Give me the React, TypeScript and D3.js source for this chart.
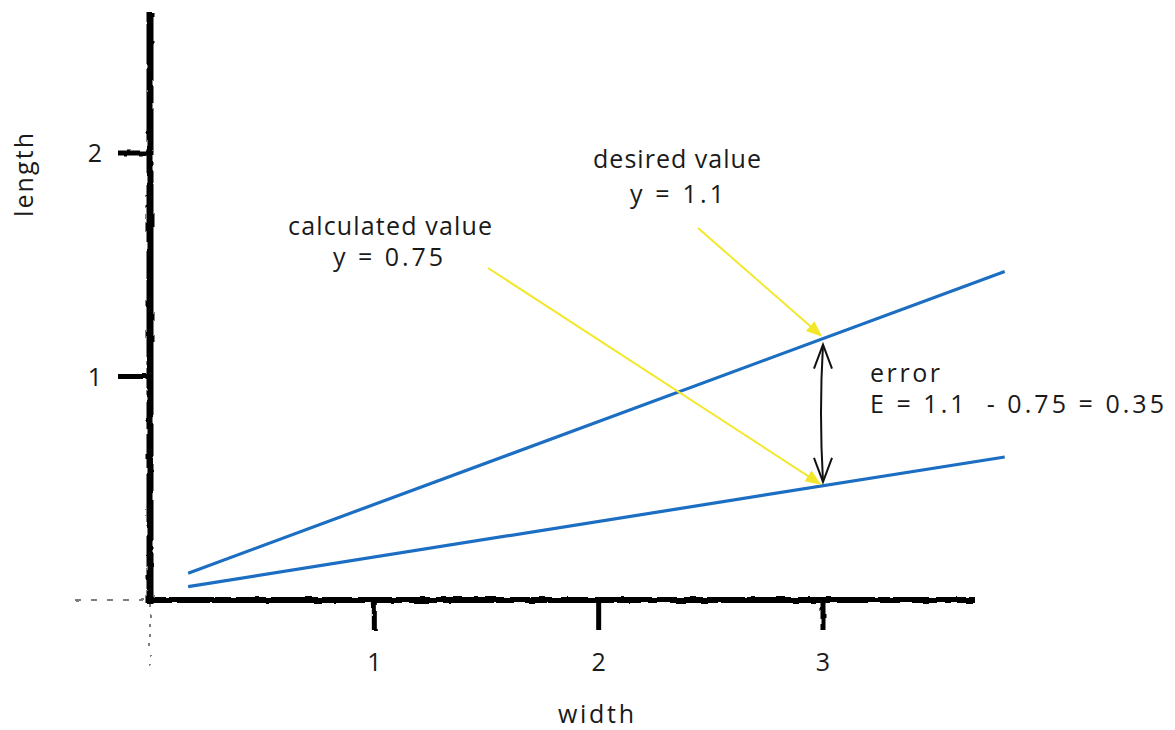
import React from "react";
import * as d3 from "d3";

const xTicks = [1, 2, 3];
const yTicks = [1, 2];
const lineX = [0.17, 3.81];
const desiredLine = [0.12, 1.47];
const calculatedLine = [0.06, 0.64];
const markX = 3;
const desiredLabel = ["desired value", "y = 1.1"];
const calculatedLabel = ["calculated value", "y = 0.75"];
const errorLabel = ["error", "E = 1.1  - 0.75 = 0.35"];

const W = 1175;
const H = 730;
const FONT = "'Open Sans', 'DejaVu Sans', sans-serif";

export default function App() {
  const x = d3.scaleLinear().domain([0, 3]).range([150, 823]);
  const y = d3.scaleLinear().domain([0, 2]).range([600, 153]);

  const line = d3
    .line<[number, number]>()
    .x((d) => x(d[0]))
    .y((d) => y(d[1]));

  const up = lineX.map((v, i) => [v, desiredLine[i]] as [number, number]);
  const lo = lineX.map((v, i) => [v, calculatedLine[i]] as [number, number]);
  const interp = (arr: number[], t: number) =>
    arr[0] + ((arr[1] - arr[0]) * (t - lineX[0])) / (lineX[1] - lineX[0]);
  const upY = y(interp(desiredLine, markX));
  const loY = y(interp(calculatedLine, markX));
  const mx = x(markX);

  const textStyle: React.CSSProperties = {
    fontFamily: FONT,
    fontStyle: "normal",
    fontSize: 25,
    fill: "#1a1a1a",
    whiteSpace: "pre",
  };

  return (
    <svg
      width={W}
      height={H}
      style={{ position: "absolute", left: 0, top: 0, background: "#fff" }}
    >
      <defs>
        <filter id="rough" x="-5%" y="-5%" width="110%" height="110%">
          <feTurbulence type="fractalNoise" baseFrequency="0.08" numOctaves="2" seed="3" result="n" />
          <feDisplacementMap in="SourceGraphic" in2="n" scale="3" />
        </filter>
        <marker id="yarrow" viewBox="0 0 10 10" refX="9" refY="5" markerWidth="8" markerHeight="8" orient="auto">
          <path d="M0,1 L10,5 L0,9 Z" fill="#f2e829" />
        </marker>
      </defs>

      {/* axes */}
      <g filter="url(#rough)">
        <line x1={x(0)} x2={x(0)} y1={12} y2={y(0) + 4} stroke="#000" strokeWidth={7} />
        <line x1={x(0)} x2={x(0)} y1={y(0) + 4} y2={672} stroke="#555" strokeWidth={1.5} strokeDasharray="3 7" />
        <line x1={x(0)} x2={975} y1={y(0)} y2={y(0)} stroke="#000" strokeWidth={6} />
        <line x1={75} x2={x(0)} y1={y(0)} y2={y(0)} stroke="#555" strokeWidth={1.5} strokeDasharray="6 10" />
        {yTicks.map((t) => (
          <line key={t} x1={x(0) - 32} x2={x(0)} y1={y(t)} y2={y(t)} stroke="#000" strokeWidth={5} />
        ))}
        {xTicks.map((t) => (
          <line key={t} x1={x(t)} x2={x(t)} y1={y(0)} y2={y(0) + 30} stroke="#000" strokeWidth={5} />
        ))}
      </g>

      {yTicks.map((t) => (
        <text key={t} x={95} y={y(t) + 9} textAnchor="middle" style={textStyle}>
          {t}
        </text>
      ))}
      {xTicks.map((t) => (
        <text key={t} x={x(t)} y={671} textAnchor="middle" style={textStyle}>
          {t}
        </text>
      ))}
      <text x={596} y={723} textAnchor="middle" textLength={76} lengthAdjust="spacing" style={textStyle}>
        width
      </text>
      <text transform={`translate(33,175) rotate(-90)`} textAnchor="middle" textLength={84} lengthAdjust="spacing" style={textStyle}>
        length
      </text>

      {/* blue lines */}
      <path d={line(up) || ""} fill="none" stroke="#1b6ec2" strokeWidth={3.2} />
      <path d={line(lo) || ""} fill="none" stroke="#1b6ec2" strokeWidth={3.2} />

      {/* yellow arrows */}
      <line x1={698} y1={228} x2={mx - 2} y2={upY - 3} stroke="#f2e829" strokeWidth={2} markerEnd="url(#yarrow)" />
      <line x1={488} y1={268} x2={mx - 3} y2={loY - 2} stroke="#f2e829" strokeWidth={2} markerEnd="url(#yarrow)" />

      {/* error double arrow */}
      <path d={`M${mx},${upY + 6} Q${mx - 4},${(upY + loY) / 2} ${mx},${loY - 4}`} fill="none" stroke="#111" strokeWidth={2} />
      <path d={`M${mx - 9},${upY + 30} L${mx},${upY + 6} L${mx + 9},${upY + 30}`} fill="none" stroke="#111" strokeWidth={2} />
      <path d={`M${mx - 9},${loY - 28} L${mx},${loY - 4} L${mx + 9},${loY - 28}`} fill="none" stroke="#111" strokeWidth={2} />

      {/* annotations */}
      <text x={593} y={168} textLength={168} lengthAdjust="spacing" style={textStyle}>{desiredLabel[0]}</text>
      <text x={630} y={203} textLength={94} lengthAdjust="spacing" style={textStyle}>{desiredLabel[1]}</text>
      <text x={288} y={235} textLength={204} lengthAdjust="spacing" style={textStyle}>{calculatedLabel[0]}</text>
      <text x={333} y={266} textLength={110} lengthAdjust="spacing" style={textStyle}>{calculatedLabel[1]}</text>
      <text x={870} y={382} textLength={70} lengthAdjust="spacing" style={textStyle}>{errorLabel[0]}</text>
      <text x={870} y={413} textLength={294} lengthAdjust="spacing" style={textStyle}>{errorLabel[1]}</text>
    </svg>
  );
}
